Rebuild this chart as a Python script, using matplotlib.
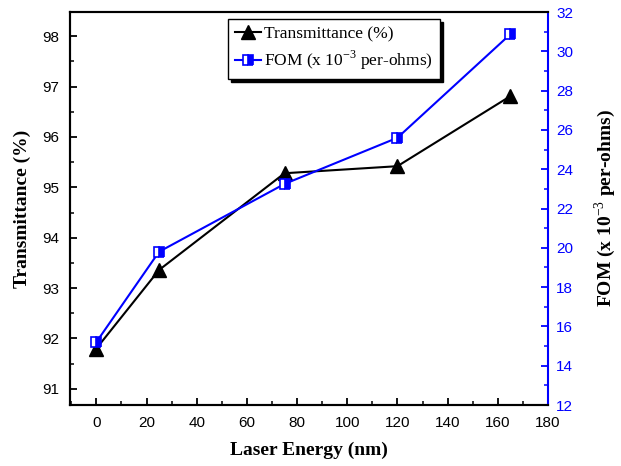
import matplotlib
matplotlib.use("Agg")
import matplotlib.pyplot as plt
from matplotlib.ticker import MultipleLocator

plt.rcParams['mathtext.fontset'] = 'custom'
plt.rcParams['mathtext.rm'] = 'Liberation Serif'
plt.rcParams['mathtext.bf'] = 'Liberation Serif:bold'

energy = [0, 25, 75, 120, 165]
transmittance = [91.8, 93.36, 95.28, 95.42, 96.81]
fom = [15.2, 19.8, 23.25, 25.6, 30.87]

x_ticks = list(range(0, 181, 20))
left_ticks = [91, 92, 93, 94, 95, 96, 97, 98]
right_ticks = list(range(12, 33, 2))

fig = plt.figure(figsize=(6.21, 4.66), dpi=100)
ax = fig.add_axes([0.1127, 0.1309, 0.7697, 0.8433])
ax2 = ax.twinx()

l1, = ax.plot(energy, transmittance, color='black', lw=1.5, marker='^', ms=10,
              mfc='black', mec='black', label='Transmittance (%)')
l2, = ax2.plot(energy, fom, color='#0000ff', lw=1.5, marker='s', ms=7.5,
               fillstyle='right', mfc='#0000ff', mfcalt='white', mec='#0000ff', mew=1.2,
               label='FOM (x 10$^{-3}$ per-ohms)')

ax.set_xlim(-10.5, 180)
ax.set_ylim(90.68, 98.48)
ax2.set_ylim(12, 32)

ax.set_xticks(x_ticks)
ax.set_yticks(left_ticks)
ax2.set_yticks(right_ticks)
ax.xaxis.set_minor_locator(MultipleLocator(10))
ax.yaxis.set_minor_locator(MultipleLocator(0.5))
ax2.yaxis.set_minor_locator(MultipleLocator(1))

for lab in ax.get_xticklabels() + ax.get_yticklabels():
    lab.set_fontfamily('Liberation Sans'); lab.set_fontsize(11)
for lab in ax2.get_yticklabels():
    lab.set_fontfamily('Liberation Sans'); lab.set_fontsize(11); lab.set_color('#0000ff')

ax.tick_params(which='major', direction='in', length=5, width=1.3, pad=8)
ax.tick_params(which='minor', direction='in', length=3, width=1.1)
ax.tick_params(axis='y', which='both', right=False)
ax.tick_params(axis='x', which='both', top=False)
ax2.tick_params(which='major', direction='in', length=5, width=1.3, colors='#0000ff', pad=6)
ax2.tick_params(which='minor', direction='in', length=3, width=1.1, colors='#0000ff')

for sp in ['left', 'bottom', 'top']:
    ax.spines[sp].set_linewidth(1.5)
    ax2.spines[sp].set_linewidth(1.5)
ax2.spines['right'].set_color('#0000ff')
ax2.spines['right'].set_linewidth(1.5)
ax.spines['right'].set_visible(False)

label_font = dict(family='Liberation Serif', weight='bold', size=14)
ax.set_xlabel('Laser Energy (nm)', fontdict=label_font, labelpad=8)
ax.set_ylabel('Transmittance (%)', fontdict=label_font, labelpad=8)
ax2.set_ylabel('FOM (x 10$^{-3}$ per-ohms)', fontdict=label_font, labelpad=14,
               rotation=90)

leg = ax2.legend([l1, l2], [l1.get_label(), l2.get_label()],
                 loc='upper left', bbox_to_anchor=(0.3305, 0.982), borderaxespad=0,
                 prop=dict(family='Liberation Serif', size=12.5),
                 frameon=True, fancybox=False, shadow={'color': 'black', 'alpha': 1},
                 edgecolor='black', framealpha=1, handlelength=1.5,
                 handletextpad=0.2, borderpad=0.4, labelspacing=0.4)
leg.get_frame().set_linewidth(1.0)

fig.savefig('out.png', dpi=100)
